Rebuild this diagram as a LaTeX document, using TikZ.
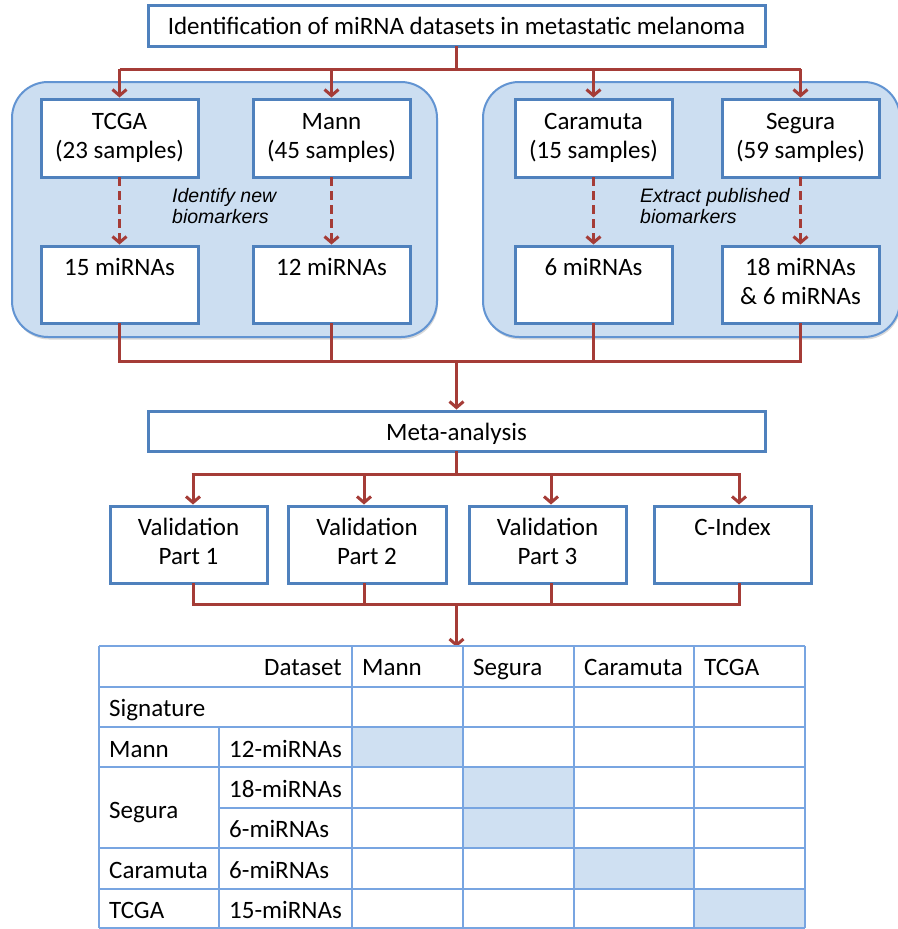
\documentclass[tikz,border=0pt]{standalone}
\usepackage{fontspec}
\setmainfont{Carlito}
\newfontfamily\arialf{Liberation Sans}
\usetikzlibrary{arrows.meta,calc,shadows}

\definecolor{boxblue}{RGB}{79,129,189}
\definecolor{panelfill}{RGB}{204,222,241}
\definecolor{panelline}{RGB}{98,148,210}
\definecolor{flowred}{RGB}{165,60,55}
\definecolor{gridblue}{RGB}{120,165,225}
\definecolor{cellfill}{RGB}{207,224,242}

\newcommand\mainsize{\fontsize{25}{29.5}\selectfont}
\newcommand\notesize{\arialf\itshape\fontsize{19.5}{21.5}\selectfont}
\newcommand\twolines[2]{\begin{tabular}[t]{@{}c@{}}#1\\#2\end{tabular}}
\newcommand\twoleft[2]{\begin{tabular}[t]{@{}l@{}}#1\\#2\end{tabular}}

\begin{document}
\begin{tikzpicture}[x=1pt,y=-1pt,
  box/.style={draw=boxblue,line width=3pt,fill=white,rectangle,inner sep=0pt,outer sep=0pt},
  panel/.style={draw=panelline,line width=2pt,fill=panelfill,rectangle,rounded corners=36pt,
    inner sep=0pt,outer sep=0pt,
    drop shadow={shadow xshift=1pt,shadow yshift=-2.5pt,opacity=0.3}},
  txt/.style={anchor=base,inner sep=0pt,font=\mainsize},
  note/.style={anchor=base west,inner sep=0pt,font=\notesize},
  flow/.style={draw=flowred,line width=3pt},
  flowarrow/.style={flow,-{Straight Barb[length=6pt,width=14pt,line width=3pt]}},
  dasharrow/.style={flowarrow,dash pattern=on 9pt off 5pt},
  grid/.style={draw=gridblue,line width=2pt},
  cell/.style={fill=cellfill,draw=none},
  celltxt/.style={anchor=base west,inner sep=0pt,font=\mainsize},
]
\useasboundingbox (0,0) rectangle (897,929);

% ---------- datasets panels ----------
\node[panel,minimum width=425,minimum height=255] (leftpanel)  at (224.5,209.5) {};
\node[panel,minimum width=417,minimum height=255] (rightpanel) at (691.5,209.5) {};

% ---------- boxes ----------
\node[box,minimum width=617,minimum height=41] (top) at (456.5,25.5) {};
\node[txt] (topT) at ($(top.north)+(0,29)$) {Identification of miRNA datasets in metastatic melanoma};

\node[box,minimum width=157,minimum height=78] (tcga) at (119.5,138) {};
\node[box,minimum width=157,minimum height=78] (mann) at (331.5,138) {};
\node[box,minimum width=157,minimum height=78] (cara) at (593.5,138) {};
\node[box,minimum width=157,minimum height=78] (segu) at (800.5,138) {};
\node[txt] (tcgaT) at ($(tcga.north)+(0,30)$) {\twolines{TCGA}{(23 samples)}};
\node[txt] (mannT) at ($(mann.north)+(0,30)$) {\twolines{Mann}{(45 samples)}};
\node[txt] (caraT) at ($(cara.north)+(0,30)$) {\twolines{Caramuta}{(15 samples)}};
\node[txt] (seguT) at ($(segu.north)+(0,30)$) {\twolines{Segura}{(59 samples)}};

\node[box,minimum width=157,minimum height=77] (m15) at (119.5,284.5) {};
\node[box,minimum width=157,minimum height=77] (m12) at (331.5,284.5) {};
\node[box,minimum width=157,minimum height=77] (m6)  at (593.5,284.5) {};
\node[box,minimum width=157,minimum height=77] (m18) at (800.5,284.5) {};
\node[txt] (m15T) at ($(m15.north)+(0,29)$) {15 miRNAs};
\node[txt] (m12T) at ($(m12.north)+(0,29)$) {12 miRNAs};
\node[txt] (m6T)  at ($(m6.north)+(0,29)$)  {6 miRNAs};
\node[txt] (m18T) at ($(m18.north)+(0,29)$) {\twolines{18 miRNAs}{\& 6 miRNAs}};

\node[note] (noteL) at (172,202) {\twoleft{Identify new}{biomarkers}};
\node[note] (noteR) at (640,202) {\twoleft{Extract published}{biomarkers}};

\node[box,minimum width=617,minimum height=40] (meta) at (456.5,431) {};
\node[txt] (metaT) at ($(meta.north)+(0,29)$) {Meta-analysis};

\node[box,minimum width=157,minimum height=77] (v1) at (188.5,544.5) {};
\node[box,minimum width=158,minimum height=77] (v2) at (367,544.5) {};
\node[box,minimum width=157,minimum height=77] (v3) at (547.5,544.5) {};
\node[box,minimum width=157,minimum height=77] (ci) at (732.5,544.5) {};
\node[txt] (v1T) at ($(v1.north)+(0,29)$) {\twolines{Validation}{Part 1}};
\node[txt] (v2T) at ($(v2.north)+(0,29)$) {\twolines{Validation}{Part 2}};
\node[txt] (v3T) at ($(v3.north)+(0,29)$) {\twolines{Validation}{Part 3}};
\node[txt] (ciT) at ($(ci.north)+(0,29)$) {C-Index};

% ---------- connectors ----------
\coordinate (busA) at (456.5,69);
\draw[flow] (top.south) -- (busA);
\draw[flow] (tcga.north |- busA) -- (segu.north |- busA);
\foreach \n in {tcga,mann,cara,segu}
  \draw[flowarrow] (\n.north |- busA) -- ([yshift=1.5pt]\n.north);

\draw[dasharrow] (tcga.south) -- ([yshift=1.5pt]m15.north);
\draw[dasharrow] (mann.south) -- ([yshift=1.5pt]m12.north);
\draw[dasharrow] (cara.south) -- ([yshift=1.5pt]m6.north);
\draw[dasharrow] (segu.south) -- ([yshift=1.5pt]m18.north);

\coordinate (busB) at (456.5,361);
\foreach \n in {m15,m12,m6,m18}
  \draw[flow] (\n.south) -- (\n.south |- busB);
\draw[flow] ([xshift=-1.5pt]m15.south |- busB) -- ([xshift=1.5pt]m18.south |- busB);
\draw[flowarrow] (busB) -- ([yshift=1.5pt]meta.north);

\coordinate (busC) at (456.5,474);
\draw[flow] (meta.south) -- (busC);
\coordinate (a1) at ([xshift=4.5pt]v1.north);
\coordinate (a2) at ([xshift=-3pt]v2.north);
\coordinate (a3) at ([xshift=3.5pt]v3.north);
\coordinate (a4) at ([xshift=6.5pt]ci.north);
\draw[flow] ([xshift=-1.5pt]a1 |- busC) -- ([xshift=1.5pt]a4 |- busC);
\foreach \c in {a1,a2,a3,a4}
  \draw[flowarrow] (\c |- busC) -- ([yshift=1.5pt]\c);

\coordinate (busD) at (456.5,604);
\coordinate (b1) at ([xshift=4.5pt]v1.south);
\coordinate (b2) at ([xshift=-3pt]v2.south);
\coordinate (b3) at ([xshift=3.5pt]v3.south);
\coordinate (b4) at ([xshift=6.5pt]ci.south);
\foreach \c in {b1,b2,b3,b4}
  \draw[flow] (\c) -- (\c |- busD);
\draw[flow] ([xshift=-1.5pt]b1 |- busD) -- ([xshift=1.5pt]b4 |- busD);

% ---------- results table ----------
\coordinate (tabTop) at (456.5,646);
\draw[flowarrow] (busD) -- ([yshift=-1pt]tabTop);

% shaded diagonal cells
\fill[cell] (352,727) rectangle (463,767);
\fill[cell] (463,767) rectangle (574,848);
\fill[cell] (574,848) rectangle (694,889);
\fill[cell] (694,889) rectangle (805,928);

% rules
\foreach \r in {646,687,727,767,848,889,928}
  \draw[grid] (99,\r) -- (805,\r);
\draw[grid] (219,808) -- (805,808);
\foreach \c in {99,352,463,574,694,805}
  \draw[grid] (\c,646) -- (\c,928);
\draw[grid] (219,727) -- (219,928);

% header row
\node[txt,anchor=base east] (hDataset) at (342,675) {Dataset};
\node[celltxt] (hMann) at (362,675) {Mann};
\node[celltxt] (hSegura) at (473,675) {Segura};
\node[celltxt] (hCaramuta) at (584,675) {Caramuta};
\node[celltxt] (hTCGA) at (704,675) {TCGA};

% signature rows
\node[celltxt] (sSignature) at (109,716) {Signature};
\node[celltxt] (sMann) at (109,757) {Mann};
\node[celltxt] (sMannN) at (229,757) {12-miRNAs};
\node[celltxt] (sSegura) at (109,818) {Segura};
\node[celltxt] (sSeguraA) at (229,797) {18-miRNAs};
\node[celltxt] (sSeguraB) at (229,837) {6-miRNAs};
\node[celltxt] (sCaramuta) at (109,878) {Caramuta};
\node[celltxt] (sCaramutaN) at (229,878) {6-miRNAs};
\node[celltxt] (sTCGA) at (109,918) {TCGA};
\node[celltxt] (sTCGAN) at (229,918) {15-miRNAs};
\end{tikzpicture}
\end{document}
